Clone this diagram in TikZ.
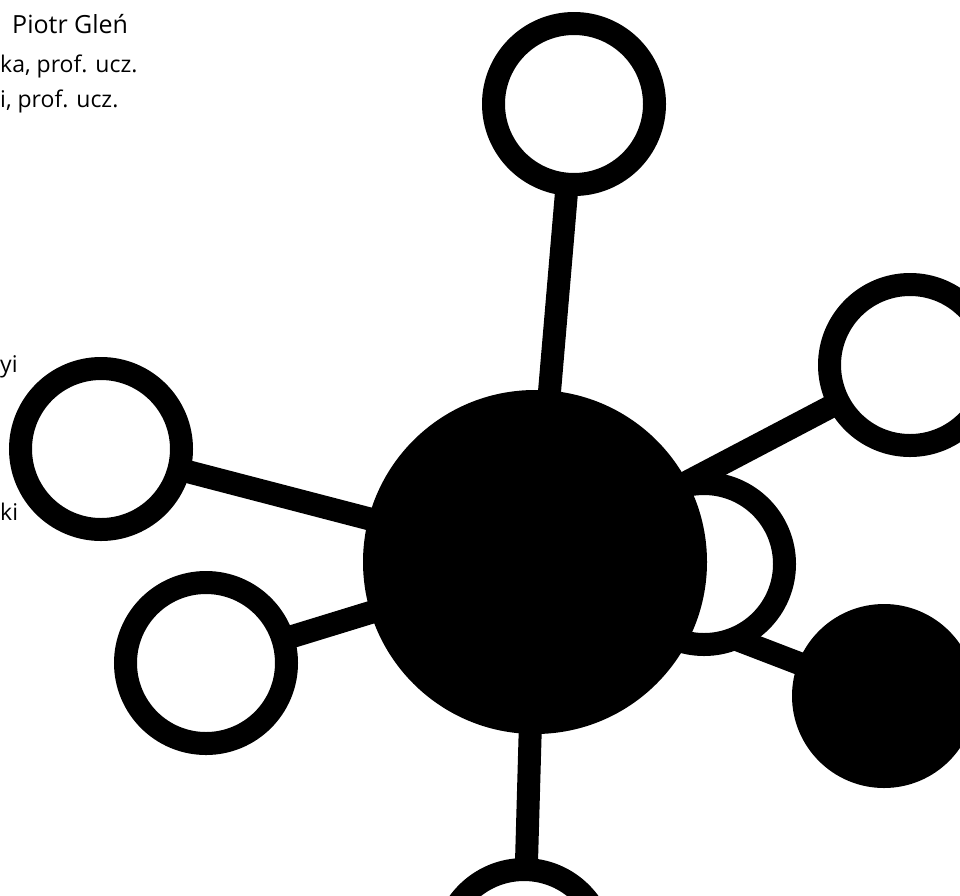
\documentclass[tikz,border=0pt]{standalone}
\usepackage{fontspec}
\setmainfont{Open Sans}
\usetikzlibrary{positioning,backgrounds}
\tikzset{
  hub/.style={circle, fill=black, inner sep=0pt, minimum size=344pt},
  ring/.style={circle, draw=black, fill=white, line width=23pt, inner sep=0pt, minimum size=161pt},
  dot/.style={circle, fill=black, inner sep=0pt, minimum size=184pt},
  bond/.style={line width=23pt, black},
  lbl/.style={font=\fontsize{23}{27}\selectfont, inner sep=0pt, anchor=base west},
}
\begin{document}
\begin{tikzpicture}[x=1pt, y=-1pt]
\useasboundingbox (0,0) rectangle (960,895);
\clip (0,0) rectangle (960,895);
% text at the left edge
\node[lbl, font=\fontsize{25}{29}\selectfont] (name) at (12,33) {Piotr Gleń};
\node[lbl] (ln1) at (0,72) {ka, prof. ucz.};
\node[lbl] (ln2) at (0,107) {i, prof. ucz.};
\node[lbl] (ln3) at (0,372) {yi};
\node[lbl] (ln4) at (0,520) {ki};
% molecule
\node[ring] (rSide) at (704,564) {};
\node[hub] (hub) at (535,562) {};
\node[ring] (rTop) at (574,104) {};
\node[ring] (rRight) at (910,365) {};
\node[ring] (rLeft) at (101,449) {};
\node[ring] (rLow) at (206,663) {};
\node[ring] (rBot) at (524,950) {};
\node[dot] (dRight) at (884,696) {};
\begin{scope}[on background layer]
\draw[bond] (hub.center) -- (rTop.center);
\draw[bond] (hub.center) -- (rRight.center);
\draw[bond] (hub.center) -- (rLeft.center);
\draw[bond] (hub.center) -- (rLow.center);
\draw[bond] (hub.center) -- (rBot.center);
\draw[bond] (hub.center) -- (dRight.center);
\end{scope}
\end{tikzpicture}
\end{document}
